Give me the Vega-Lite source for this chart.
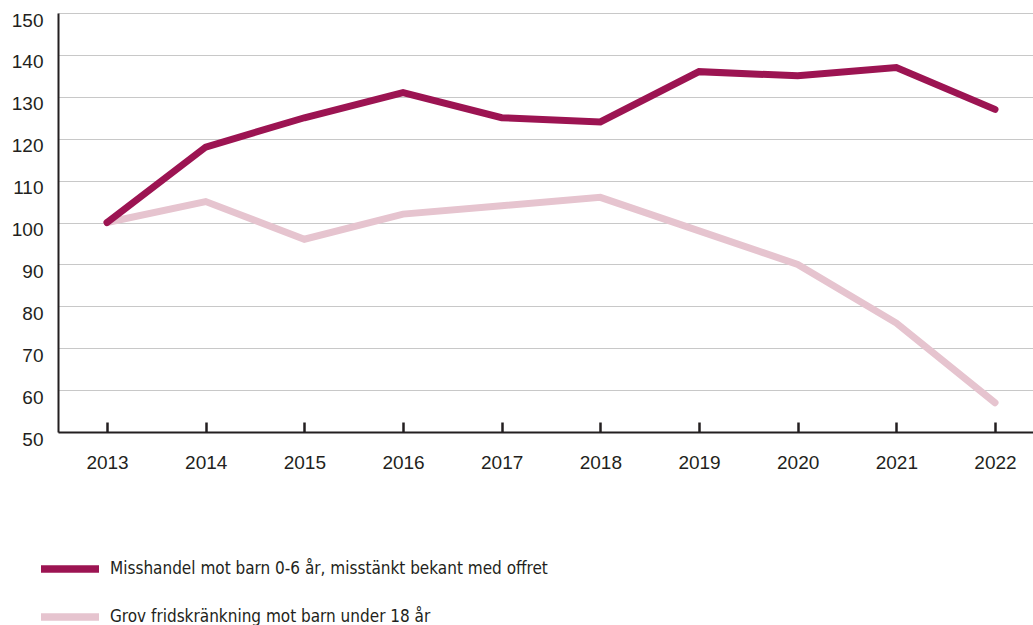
{
  "$schema": "https://vega.github.io/schema/vega-lite/v6.json",
  "width": 975,
  "height": 419,
  "autosize": {"type": "none"},
  "padding": {"left": 58, "top": 13, "right": 0, "bottom": 193},
  "background": "white",
  "config": {
    "view": {"stroke": null},
    "font": "Liberation Sans",
    "axis": {"labelColor": "#231f20", "labelFontSize": 19, "titleColor": "#231f20"}
  },
  "data": {
    "values": [
      {"year": 2013, "series": "Grov fridskränkning mot barn under 18 år", "value": 100},
      {"year": 2014, "series": "Grov fridskränkning mot barn under 18 år", "value": 105},
      {"year": 2015, "series": "Grov fridskränkning mot barn under 18 år", "value": 96},
      {"year": 2016, "series": "Grov fridskränkning mot barn under 18 år", "value": 102},
      {"year": 2017, "series": "Grov fridskränkning mot barn under 18 år", "value": 104},
      {"year": 2018, "series": "Grov fridskränkning mot barn under 18 år", "value": 106},
      {"year": 2019, "series": "Grov fridskränkning mot barn under 18 år", "value": 98},
      {"year": 2020, "series": "Grov fridskränkning mot barn under 18 år", "value": 90},
      {"year": 2021, "series": "Grov fridskränkning mot barn under 18 år", "value": 76},
      {"year": 2022, "series": "Grov fridskränkning mot barn under 18 år", "value": 57},
      {"year": 2013, "series": "Misshandel mot barn 0-6 år, misstänkt bekant med offret", "value": 100},
      {"year": 2014, "series": "Misshandel mot barn 0-6 år, misstänkt bekant med offret", "value": 118},
      {"year": 2015, "series": "Misshandel mot barn 0-6 år, misstänkt bekant med offret", "value": 125},
      {"year": 2016, "series": "Misshandel mot barn 0-6 år, misstänkt bekant med offret", "value": 131},
      {"year": 2017, "series": "Misshandel mot barn 0-6 år, misstänkt bekant med offret", "value": 125},
      {"year": 2018, "series": "Misshandel mot barn 0-6 år, misstänkt bekant med offret", "value": 124},
      {"year": 2019, "series": "Misshandel mot barn 0-6 år, misstänkt bekant med offret", "value": 136},
      {"year": 2020, "series": "Misshandel mot barn 0-6 år, misstänkt bekant med offret", "value": 135},
      {"year": 2021, "series": "Misshandel mot barn 0-6 år, misstänkt bekant med offret", "value": 137},
      {"year": 2022, "series": "Misshandel mot barn 0-6 år, misstänkt bekant med offret", "value": 127}
    ]
  },
  "mark": {"type": "line", "strokeWidth": 7, "strokeCap": "round", "strokeJoin": "miter", "clip": false},
  "encoding": {
    "x": {
      "field": "year",
      "type": "quantitative",
      "scale": {"domain": [2012.503, 2022.385], "nice": false, "zero": false},
      "axis": {
        "title": null,
        "values": [2013, 2014, 2015, 2016, 2017, 2018, 2019, 2020, 2021, 2022],
        "format": "d",
        "grid": false,
        "domainColor": "#231f20",
        "domainWidth": 2,
        "tickColor": "#231f20",
        "tickWidth": 2.5,
        "tickSize": -10,
        "labelPadding": 31,
        "labelFlush": false
      }
    },
    "y": {
      "field": "value",
      "type": "quantitative",
      "scale": {"domain": [50, 150], "nice": false, "zero": false},
      "axis": {
        "title": null,
        "values": [50, 60, 70, 80, 90, 100, 110, 120, 130, 140, 150],
        "grid": true,
        "gridColor": "#c8c8c8",
        "gridWidth": 1.2,
        "ticks": false,
        "domainColor": "#231f20",
        "domainWidth": 2,
        "labelPadding": 15,
        "labelOffset": 7,
        "labelFlush": false
      }
    },
    "color": {
      "field": "series",
      "type": "nominal",
      "scale": {
        "domain": ["Misshandel mot barn 0-6 år, misstänkt bekant med offret", "Grov fridskränkning mot barn under 18 år"],
        "range": ["#9c1452", "#e6c4cf"]
      },
      "legend": {
        "title": null,
        "orient": "none",
        "legendX": -21,
        "legendY": 523,
        "direction": "vertical",
        "symbolType": "stroke",
        "symbolSize": 3364,
        "symbolStrokeWidth": 7.5,
        "labelFontSize": 17,
        "labelFont": "DejaVu Sans Condensed, Liberation Sans",
        "labelColor": "#231f20",
        "labelOffset": 7,
        "rowPadding": -11,
        "padding": 0,
        "labelLimit": 800
      }
    }
  }
}
